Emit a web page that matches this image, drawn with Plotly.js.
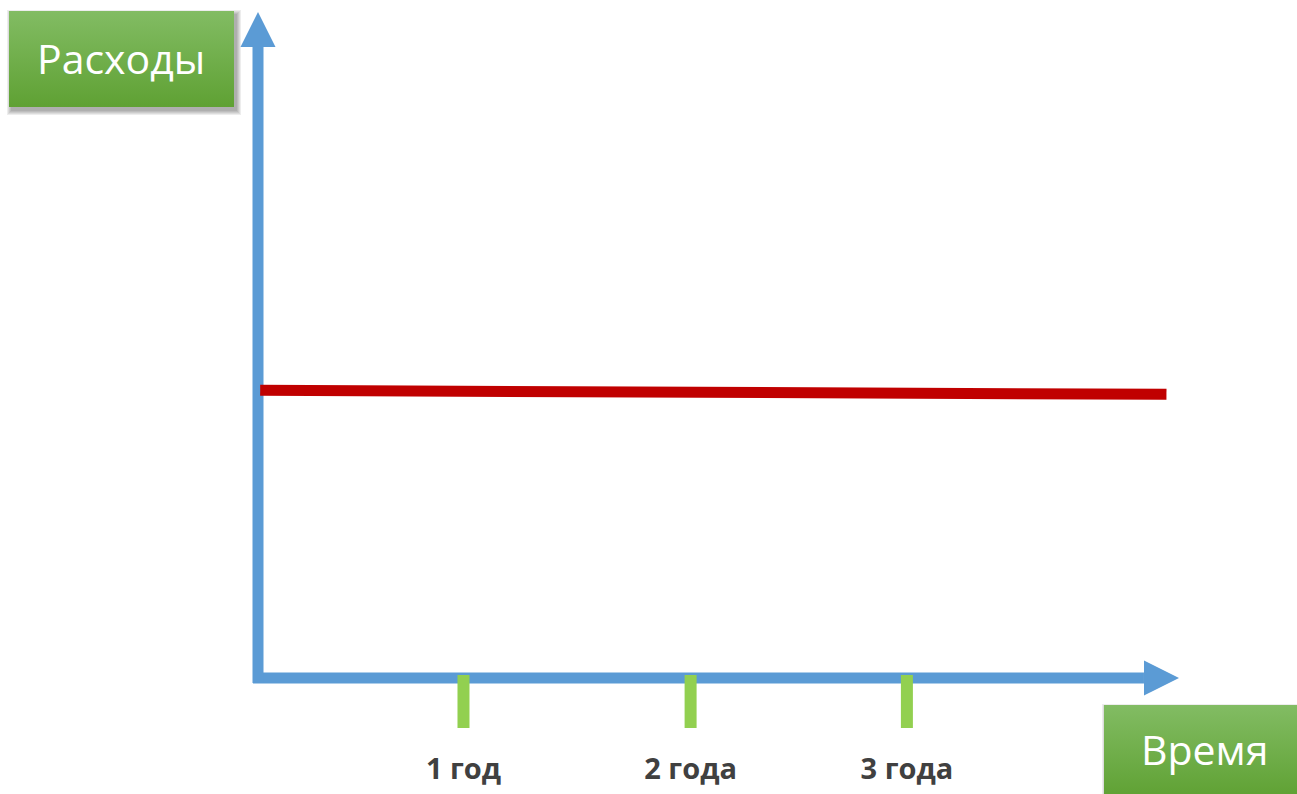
<!DOCTYPE html>
<html>
<head>
<meta charset="utf-8">
<script src="https://cdn.plot.ly/plotly-3.0.1.min.js"></script>
<style>
  html, body { margin: 0; padding: 0; background: #ffffff; }
  #chart { width: 1297px; height: 794px; }
</style>
</head>
<body>
<div id="chart"></div>
<script>
// ---- data ----
const tickYears = [0.95, 2.0, 3.0];          // positions of the green year marks (years)
const tickLabels = ['1 год', '2 года', '3 года'];
const costTime = [0.01, 4.2];                // red "expenses" line, time (years)
const costValue = [4.32, 4.26];              // red "expenses" line, level
const yTitle = 'Расходы';
const xTitle = 'Время';

// axis geometry in data units
const xAxisStart = -0.023, xAxisEnd = 4.096, xArrowTip = 4.258, xArrowHalf = 0.263;
const yAxisStart = -0.075, yAxisEnd = 9.474, yArrowTip = 10.0, yArrowHalf = 0.081;
const tickTop = 0.045, tickBottom = -0.751, labelLevel = -1.41;

const BLUE = '#5B9BD5', RED = '#C00000', TICKGREEN = '#92D050';

const traces = [];

// axis shafts
traces.push({ x: [xAxisStart, xAxisEnd], y: [0, 0], mode: 'lines',
  line: { color: BLUE, width: 11 }, hoverinfo: 'skip' });
traces.push({ x: [0, 0], y: [yAxisStart, yAxisEnd], mode: 'lines',
  line: { color: BLUE, width: 11 }, hoverinfo: 'skip' });
// arrow heads
traces.push({ x: [xAxisEnd, xArrowTip, xAxisEnd, xAxisEnd], y: [xArrowHalf, 0, -xArrowHalf, xArrowHalf],
  mode: 'lines', fill: 'toself', fillcolor: BLUE, line: { color: BLUE, width: 0 }, hoverinfo: 'skip' });
traces.push({ x: [-yArrowHalf, 0, yArrowHalf, -yArrowHalf], y: [yAxisEnd, yArrowTip, yAxisEnd, yAxisEnd],
  mode: 'lines', fill: 'toself', fillcolor: BLUE, line: { color: BLUE, width: 0 }, hoverinfo: 'skip' });

// expenses line
traces.push({ x: costTime, y: costValue, mode: 'lines',
  line: { color: RED, width: 11 }, hoverinfo: 'skip' });

// year ticks
const tx = [], ty = [];
tickYears.forEach(t => { tx.push(t, t, null); ty.push(tickTop, tickBottom, null); });
traces.push({ x: tx, y: ty, mode: 'lines', line: { color: TICKGREEN, width: 12 }, hoverinfo: 'skip' });

// year labels
traces.push({ x: tickYears, y: tickYears.map(() => labelLevel), mode: 'text', text: tickLabels,
  textposition: 'middle center',
  textfont: { family: 'Open Sans', size: 29, color: '#404040', weight: 'bold' }, hoverinfo: 'skip' });

// title boxes (decoration, pixel overlay axes)
const boxes = [
  { x0: 9, x1: 234, y0: 11, y1: 107, text: yTitle, tx: 121, ty: 58 },
  { x0: 1104, x1: 1300, y0: 705, y1: 798, text: xTitle, tx: 1204, ty: 749 }
];
const shapes = [];
const annotations = [];
boxes.forEach(b => {
  // soft shadow
  for (let i = 0; i < 5; i++) {
    shapes.push({ type: 'rect', xref: 'x2', yref: 'y2', layer: 'below',
      x0: b.x0 + 2 - i, x1: b.x1 + 3 + i, y0: b.y0 + 3 - i, y1: b.y1 + 4 + i,
      fillcolor: 'rgba(0,0,0,0.07)', line: { width: 0 } });
  }
  traces.push({ x: [b.x0, b.x1, b.x1, b.x0, b.x0], y: [b.y0, b.y0, b.y1, b.y1, b.y0],
    xaxis: 'x2', yaxis: 'y2', mode: 'lines', fill: 'toself',
    fillgradient: { type: 'vertical', colorscale: [[0, '#5FA133'], [1, '#82BC63']] },
    line: { width: 0, color: 'rgba(0,0,0,0)' }, hoverinfo: 'skip' });
  annotations.push({ xref: 'x2', yref: 'y2', x: b.tx, y: b.ty, text: b.text, showarrow: false,
    xanchor: 'center', yanchor: 'middle',
    font: { family: 'Open Sans', size: 41, color: '#ffffff' } });
});

const layout = {
  width: 1297, height: 794,
  margin: { l: 0, r: 0, t: 0, b: 0, pad: 0 },
  paper_bgcolor: '#ffffff', plot_bgcolor: '#ffffff',
  showlegend: false, hovermode: false,
  xaxis: { range: [-1.1928, 4.8035], visible: false, fixedrange: true },
  yaxis: { range: [-1.7417, 10.1802], visible: false, fixedrange: true },
  xaxis2: { range: [0, 1297], overlaying: 'x', visible: false, fixedrange: true },
  yaxis2: { range: [794, 0], overlaying: 'y', visible: false, fixedrange: true },
  shapes: shapes,
  annotations: annotations
};

Plotly.newPlot('chart', traces, layout, { staticPlot: true, displayModeBar: false });
</script>
</body>
</html>
